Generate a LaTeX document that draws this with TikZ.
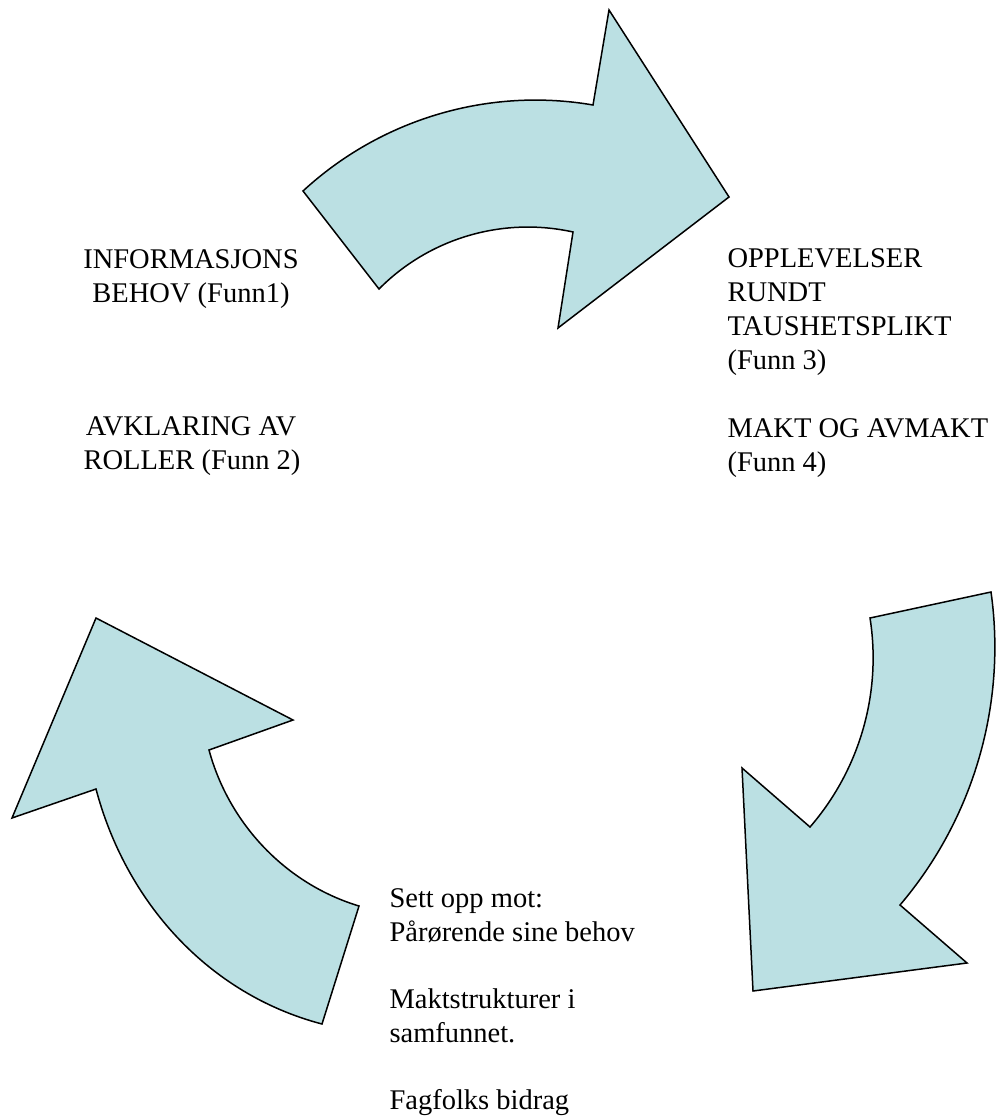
\documentclass[tikz,border=0pt]{standalone}
\usepackage{fontspec}
\setmainfont{Liberation Serif}
\definecolor{arrowfill}{RGB}{187,224,227}
\begin{document}
\begin{tikzpicture}[x=0.4pt,y=-0.4pt,
  bigarrow/.style={draw=black,fill=arrowfill,line width=0.6pt,line join=miter},
  lbl/.style={inner sep=0pt,font=\fontsize{11.4}{13.5}\selectfont},
  lblc/.style={lbl,anchor=base},
  lblw/.style={lbl,anchor=base west}]
\useasboundingbox (0,0) rectangle (1005,1117);
% top arrow
\draw[bigarrow] (303,191) .. controls (381,119) and (488.5,87) .. (593,105)
  -- (609,10) -- (729,197) -- (558,328) -- (573,232)
  .. controls (503,216.5) and (429.5,238) .. (379,289) -- cycle;
% right arrow
\draw[bigarrow] (870,618) -- (991,592)
  .. controls (1006.8,704.4) and (973.5,818.5) .. (900,905)
  -- (967,963) -- (753,991) -- (742,768) -- (810,827)
  .. controls (859.7,769.6) and (881.8,693) .. (870,618) -- cycle;
% left arrow
\draw[bigarrow] (322,1024) .. controls (208,994) and (126,902) .. (96,789)
  -- (12,818) -- (96,618) -- (293,720) -- (209,750)
  .. controls (229,824) and (286,884) .. (359,906) -- cycle;
% left texts
\node[lblc] (l1) at (191,269) {INFORMASJONS};
\node[lblc] (l2) at (191,303) {BEHOV (Funn1)};
\node[lblc] (l3) at (191,436) {AVKLARING AV};
\node[lblc] (l4) at (192,470) {ROLLER (Funn 2)};
% right texts
\node[lblw] (r1) at (727,268) {OPPLEVELSER};
\node[lblw] (r2) at (727,302) {RUNDT};
\node[lblw] (r3) at (727,336) {TAUSHETSPLIKT};
\node[lblw] (r4) at (727,370) {(Funn 3)};
\node[lblw] (r5) at (727,437) {MAKT OG AVMAKT};
\node[lblw] (r6) at (727,471) {(Funn 4)};
% bottom texts
\node[lblw] (b1) at (389,907) {Sett opp mot:};
\node[lblw] (b2) at (389,941) {Pårørende sine behov};
\node[lblw] (b3) at (389,1008) {Maktstrukturer i};
\node[lblw] (b4) at (389,1042) {samfunnet.};
\node[lblw] (b5) at (389,1109) {Fagfolks bidrag};
\end{tikzpicture}
\end{document}
